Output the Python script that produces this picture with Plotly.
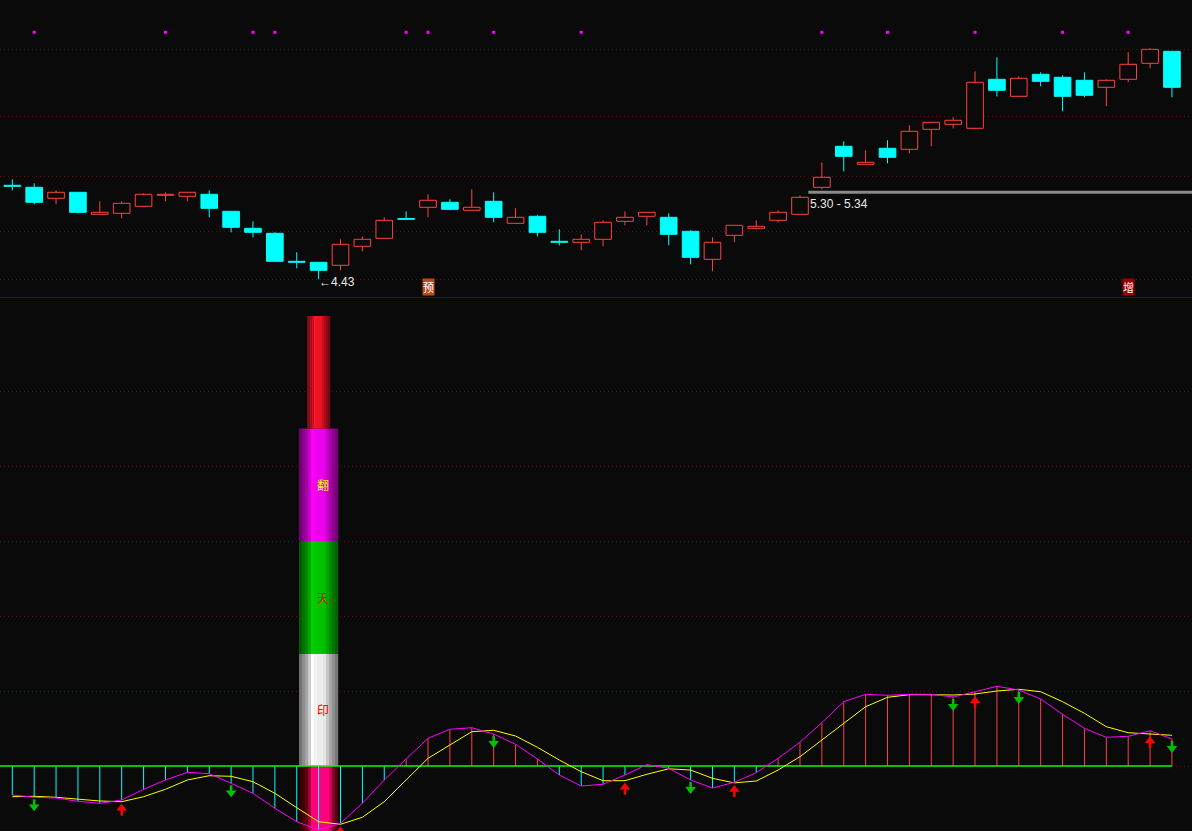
import plotly.graph_objects as go

# ---------------- data ----------------
bar_idx = list(range(54))
opens = [5.37, 5.35, 5.24, 5.30, 5.08, 5.09, 5.16, 5.27, 5.26, 5.28,
         5.11, 4.94, 4.89, 4.61, 4.60, 4.57, 4.76, 4.84, 5.03, 5.15,
         5.20, 5.12, 5.21, 4.99, 5.06, 4.81, 4.80, 4.83, 5.01, 5.06,
         5.05, 4.91, 4.63, 4.87, 4.94, 5.02, 5.08, 5.35, 5.76, 5.58,
         5.74, 5.73, 5.93, 5.98, 5.94, 6.43, 6.26, 6.48, 6.45, 6.42,
         6.35, 6.43, 6.59, 6.71]
highs = [5.43, 5.39, 5.32, 5.30, 5.21, 5.21, 5.29, 5.30, 5.30, 5.32,
         5.11, 5.01, 4.90, 4.70, 4.60, 4.83, 4.86, 5.05, 5.11, 5.28,
         5.23, 5.33, 5.30, 5.14, 5.07, 4.93, 4.88, 5.02, 5.11, 5.10,
         5.09, 4.92, 4.85, 4.97, 5.02, 5.12, 5.27, 5.60, 5.81, 5.72,
         5.82, 5.97, 6.00, 6.05, 6.51, 6.65, 6.46, 6.50, 6.47, 6.50,
         6.43, 6.70, 6.74, 6.71]
lows = [5.32, 5.18, 5.18, 5.09, 5.08, 5.04, 5.16, 5.21, 5.21, 5.05,
        4.90, 4.85, 4.61, 4.54, 4.43, 4.52, 4.71, 4.84, 5.03, 5.05,
        5.12, 5.12, 5.00, 4.99, 4.86, 4.77, 4.72, 4.76, 4.97, 4.97,
        4.77, 4.58, 4.51, 4.80, 4.93, 5.00, 5.08, 5.33, 5.51, 5.58,
        5.59, 5.69, 5.76, 5.94, 5.94, 6.26, 6.26, 6.36, 6.11, 6.25,
        6.16, 6.40, 6.54, 6.25]
closes = [5.36, 5.20, 5.30, 5.10, 5.10, 5.19, 5.28, 5.28, 5.30, 5.14,
          4.95, 4.90, 4.61, 4.60, 4.52, 4.78, 4.83, 5.02, 5.03, 5.22,
          5.13, 5.15, 5.05, 5.05, 4.90, 4.80, 4.83, 5.00, 5.05, 5.10,
          4.88, 4.65, 4.80, 4.97, 4.96, 5.10, 5.25, 5.45, 5.66, 5.60,
          5.65, 5.91, 6.00, 6.02, 6.40, 6.32, 6.44, 6.41, 6.26, 6.27,
          6.42, 6.58, 6.73, 6.35]

signal_dot_idx = [1, 7, 11, 12, 18, 19, 22, 26, 37, 40, 44, 48, 51]
signal_dot_level = 6.90

low_idx = 14
low_price = 4.43
low_text = "←4.43"

range_idx = 36
range_lo = 5.30
range_text = "5.30 - 5.34"

tag_idx = [19, 51]
tag_texts = ["预", "增"]
tag_colors = ["#b84a18", "#9c0000"]

top_grid = [4.43, 4.91, 5.46, 6.06, 6.73]

osc = [-7.73, -8.35, -8.53, -9.41, -9.95, -9.07, -6.21, -3.73, -1.68, -2.05,
       -4.61, -7.28, -11.28, -14.85, -17.07, -15.28, -9.95, -3.73, 1.87, 7.39,
       9.79, 10.21, 8.53, 5.79, 1.87, -2.40, -5.33, -4.88, -2.40, 0.35,
       -0.61, -3.73, -5.87, -4.35, -1.79, 2.05, 6.35, 11.55, 17.15, 19.12,
       18.85, 19.12, 19.12, 18.40, 19.81, 21.25, 20.27, 17.87, 13.79, 10.05,
       7.65, 7.92, 9.41, 7.20]
sig = [-8.19, -8.08, -8.35, -8.88, -9.33, -9.52, -8.19, -6.21, -3.73, -2.59,
       -2.75, -4.19, -7.28, -11.12, -14.85, -15.55, -13.68, -9.52, -3.73, 2.05,
       5.60, 9.15, 9.52, 8.00, 4.99, 1.60, -1.52, -3.92, -3.92, -2.21,
       -0.75, -1.07, -3.28, -4.50, -4.00, -1.07, 2.48, 6.93, 11.55, 15.81,
       18.32, 19.01, 19.00, 18.93, 19.20, 20.00, 20.45, 19.81, 17.15, 14.05,
       10.48, 8.88, 8.53, 8.19]
cross_up = [5, 15, 28, 33, 44, 52]
cross_down = [1, 10, 22, 31, 43, 46, 53]

col_idx = 14
col_bounds = [0, 30, 60, 90, 120]
col_texts = ["印", "天", "翻"]
col_text_colors = ["#ff0000", "#ff0000", "#ffff00"]
bottom_grid = [0, 20, 40, 60, 80, 100]

# ---------------- styling ----------------
BG = "#0a0a0a"
RED = "#ff4040"
CYAN = "#00ffff"
GRID = "#7a0000"
W, H = 1192, 831
TOP_PX = 297
XR = [-0.562, 53.916]
Y1R = [4.253, 7.223]
Y2R = [-17.333, 124.8]
BODY_W = 0.76
PXU2 = (Y2R[1] - Y2R[0]) / (H - TOP_PX - 1)

fig = go.Figure()

# ---- candles ----
is_up = [c > o for o, c in zip(opens, closes)]
for flag, color in [(True, RED), (False, CYAN)]:
    xs = [i for i in bar_idx if is_up[i] == flag]
    base = [min(opens[i], closes[i]) for i in xs]
    hgt = [max(abs(closes[i] - opens[i]), 0.008) for i in xs]
    fig.add_trace(go.Bar(
        x=xs, base=base, y=hgt, width=BODY_W,
        marker=dict(color=BG if flag else CYAN, line=dict(color=color, width=1)),
        xaxis="x", yaxis="y", hoverinfo="skip", showlegend=False))
    wx, wy = [], []
    for i in xs:
        top = max(opens[i], closes[i])
        bot = min(opens[i], closes[i])
        if highs[i] > top:
            wx += [i, i, None]
            wy += [highs[i], top, None]
        if lows[i] < bot:
            wx += [i, i, None]
            wy += [bot, lows[i], None]
    fig.add_trace(go.Scatter(x=wx, y=wy, mode="lines", line=dict(color=color, width=1),
                             xaxis="x", yaxis="y", hoverinfo="skip", showlegend=False))

# signal dots
fig.add_trace(go.Scatter(x=signal_dot_idx, y=[signal_dot_level] * len(signal_dot_idx),
                         mode="markers", marker=dict(symbol="square", size=3, color="#ff00ff",
                                                     line=dict(width=0)),
                         xaxis="x", yaxis="y", hoverinfo="skip", showlegend=False))

# range line
fig.add_trace(go.Scatter(x=[range_idx + BODY_W / 2, XR[1]], y=[range_lo, range_lo],
                         mode="lines", line=dict(color="#8a8a8a", width=3),
                         xaxis="x", yaxis="y", hoverinfo="skip", showlegend=False))

fig.add_annotation(x=range_idx + BODY_W / 2, y=range_lo, xref="x", yref="y",
                   text=range_text, showarrow=False, xanchor="left", yanchor="top",
                   yshift=-3, xshift=0,
                   font=dict(family="Liberation Sans", size=12, color="#e8e8e8"))
fig.add_annotation(x=low_idx, y=low_price, xref="x", yref="y",
                   text=low_text, showarrow=False, xanchor="left", yanchor="middle",
                   yshift=-3, xshift=-2,
                   font=dict(family="Liberation Sans", size=12, color="#e8e8e8"))
for i, t, c in zip(tag_idx, tag_texts, tag_colors):
    fig.add_annotation(x=i, y=Y1R[0], xref="x", yref="y", text=t, showarrow=False,
                       xanchor="center", yanchor="bottom", yshift=1, bgcolor=c,
                       borderpad=0,
                       font=dict(family="Noto Sans CJK SC", size=11, color="#ffffff"))

# ---- bottom column (cylinder) ----
prof = [0.45, 0.55, 0.65, 0.80, 1.0, 0.95, 0.93, 0.93, 0.90, 0.78, 0.66, 0.56, 0.47]
NS = len(prof)


def shade(rgb, f):
    return "rgb(%d,%d,%d)" % tuple(min(255, round(c * f)) for c in rgb)


def stripe_x(width):
    w = width / NS
    return [col_idx - width / 2 + w * (k + 0.5) for k in range(NS)], w * 1.08


WIDE, NARROW = 1.78, 1.05
pink = ["#300000", "#400000", "#600010", "#a00030", "#ff0080", "#ff0080", "#ff0080",
        "#ff0080", "#ff0080", "#ff0080", "#d00060", "#800028", "#500010"]
sx, sw = stripe_x(WIDE)
fig.add_trace(go.Bar(x=sx, base=[Y2R[0] - 5] * NS, y=[col_bounds[0] - Y2R[0] + 5] * NS,
                     width=sw, marker=dict(color=pink, line=dict(width=0)),
                     xaxis="x2", yaxis="y2", hoverinfo="skip", showlegend=False))
seg_rgb = [(255, 255, 255), (0, 210, 0), (255, 0, 255), (255, 20, 40)]
for s in range(4):
    width = NARROW if s == 3 else WIDE
    sx, sw = stripe_x(width)
    cols = [shade(seg_rgb[s], f) for f in prof]
    fig.add_trace(go.Bar(x=sx, base=[col_bounds[s]] * NS,
                         y=[col_bounds[s + 1] - col_bounds[s]] * NS,
                         width=sw, marker=dict(color=cols, line=dict(width=0)),
                         xaxis="x2", yaxis="y2", hoverinfo="skip", showlegend=False))
for s, (t, c) in enumerate(zip(col_texts, col_text_colors)):
    fig.add_annotation(x=col_idx, y=(col_bounds[s] + col_bounds[s + 1]) / 2,
                       xref="x2", yref="y2", text=t, showarrow=False, xshift=4,
                       font=dict(family="Noto Sans CJK SC", size=12, color=c))

# ---- oscillator ----
for positive, color in [(True, RED), (False, CYAN)]:
    vx, vy = [], []
    for i in bar_idx:
        if (osc[i] > 0) == positive:
            vx += [i, i, None]
            vy += [0, osc[i], None]
    fig.add_trace(go.Scatter(x=vx, y=vy, mode="lines", line=dict(color=color, width=1),
                             xaxis="x2", yaxis="y2", hoverinfo="skip", showlegend=False))

fig.add_trace(go.Scatter(x=[XR[0], bar_idx[-1]], y=[0, 0], mode="lines",
                         line=dict(color="#00ff00", width=1.5),
                         xaxis="x2", yaxis="y2", hoverinfo="skip", showlegend=False))
fig.add_trace(go.Scatter(x=bar_idx, y=sig, mode="lines", line=dict(color="#ffff00", width=1),
                         xaxis="x2", yaxis="y2", hoverinfo="skip", showlegend=False))
fig.add_trace(go.Scatter(x=bar_idx, y=osc, mode="lines", line=dict(color="#ff00ff", width=1),
                         xaxis="x2", yaxis="y2", hoverinfo="skip", showlegend=False))

# ---- crossing arrows: shaft (line) + head (triangle marker) ----
R_HEAD = 4.6  # triangle "radius" in px
ARROW_STYLE = {"down": ("#00c000", "triangle-down"), "up": ("#ff0000", "triangle-up")}
for kind, idxs in [("down", cross_down), ("up", cross_up)]:
    color, sym = ARROW_STYLE[kind]
    shx, shy, hx, hy = [], [], [], []
    for i in idxs:
        b = min(osc[i], sig[i])
        if kind == "down":
            shx += [i, i, None]
            shy += [b - 2 * PXU2, b - 9 * PXU2, None]
            hy.append(b - (14 - R_HEAD) * PXU2)
        else:
            shx += [i, i, None]
            shy += [b - 7 * PXU2, b - 14 * PXU2, None]
            hy.append(b - (2 + R_HEAD) * PXU2)
        hx.append(i)
    fig.add_trace(go.Scatter(x=shx, y=shy, mode="lines", line=dict(color=color, width=2.5),
                             xaxis="x2", yaxis="y2", hoverinfo="skip", showlegend=False))
    fig.add_trace(go.Scatter(x=hx, y=hy, mode="markers",
                             marker=dict(symbol=sym, size=2 * R_HEAD, color=color,
                                         line=dict(width=0)),
                             xaxis="x2", yaxis="y2", hoverinfo="skip", showlegend=False))

# separator between panels
fig.add_shape(type="line", xref="paper", yref="paper", x0=0, x1=1,
              y0=1 - (TOP_PX + 0.5) / H, y1=1 - (TOP_PX + 0.5) / H,
              line=dict(color="#700000", width=1))

axis_common = dict(showticklabels=False, ticks="", zeroline=False, showline=False)
fig.update_layout(
    width=W, height=H, margin=dict(l=0, r=0, t=0, b=0, pad=0),
    paper_bgcolor=BG, plot_bgcolor=BG, showlegend=False, barmode="overlay",
    xaxis=dict(range=XR, domain=[0, 1], anchor="y", showgrid=False, **axis_common),
    xaxis2=dict(range=XR, domain=[0, 1], anchor="y2", matches="x", showgrid=False,
                **axis_common),
    yaxis=dict(range=Y1R, domain=[1 - TOP_PX / H, 1], anchor="x", tickvals=top_grid,
               showgrid=True, gridcolor=GRID, griddash="1px,3px", gridwidth=1,
               **axis_common),
    yaxis2=dict(range=Y2R, domain=[0, 1 - (TOP_PX + 1) / H], anchor="x2",
                tickvals=bottom_grid, showgrid=True, gridcolor=GRID,
                griddash="1px,3px", gridwidth=1, **axis_common),
)

fig.write_html("out.html", config={"displayModeBar": False},
               post_script="document.body.style.margin='0';document.body.style.overflow='hidden';")
